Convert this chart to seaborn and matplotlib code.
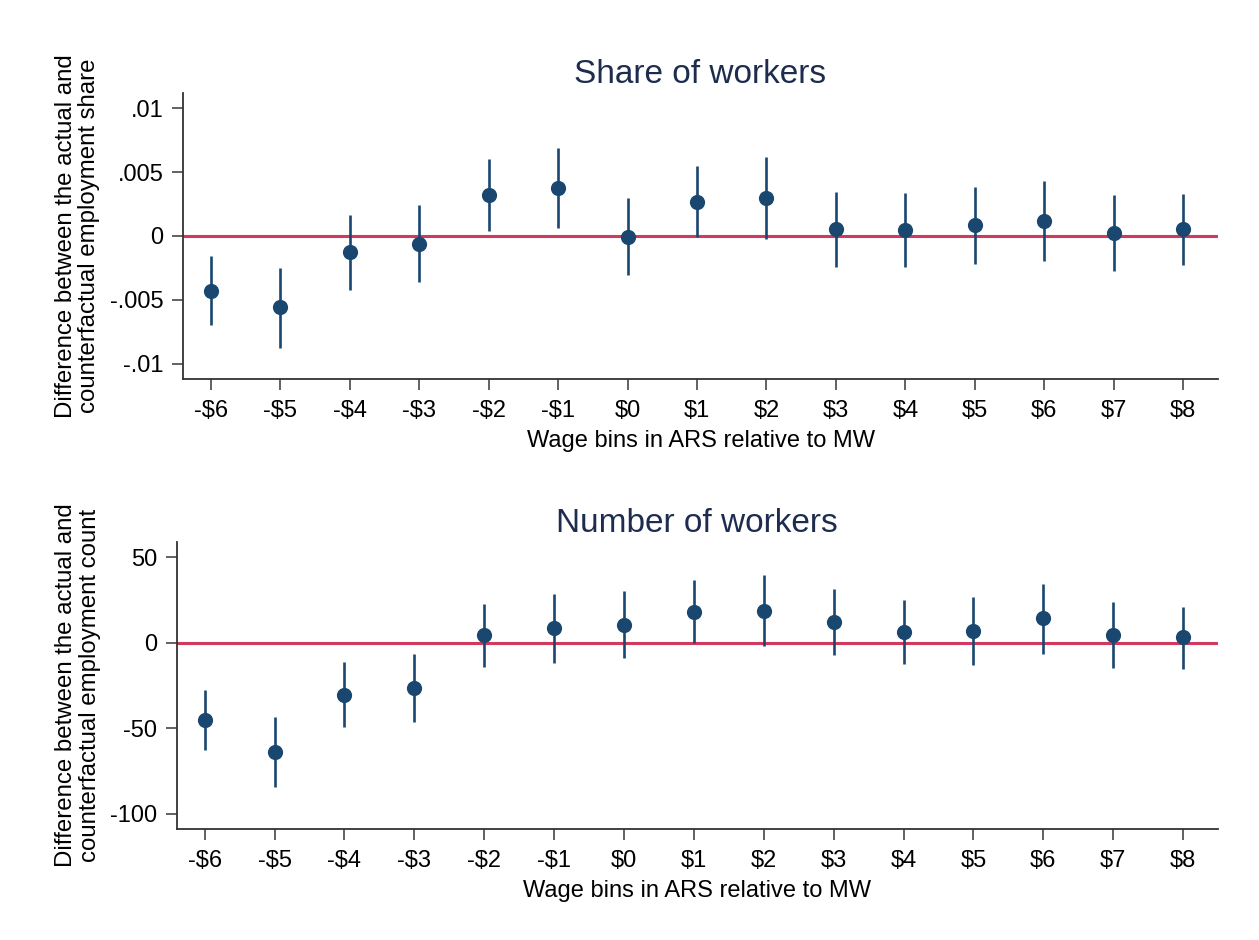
import numpy as np
import pandas as pd
import matplotlib
matplotlib.use("Agg")
import matplotlib.pyplot as plt
import seaborn as sns

# Wage bins (ARS relative to the minimum wage)
bins = [-6, -5, -4, -3, -2, -1, 0, 1, 2, 3, 4, 5, 6, 7, 8]
bin_labels = ["-$6", "-$5", "-$4", "-$3", "-$2", "-$1", "$0", "$1", "$2",
              "$3", "$4", "$5", "$6", "$7", "$8"]

# Share of workers: point estimate and 95% CI
share_est = [-0.0043, -0.0056, -0.00125, -0.0006, 0.0032, 0.00376, -0.00005,
             0.0027, 0.0030, 0.00055, 0.00044, 0.00086, 0.00117, 0.00026, 0.00055]
share_lo = [-0.0070, -0.00875, -0.0042, -0.0036, 0.0004, 0.00065, -0.00305,
            -0.0001, -0.0002, -0.00243, -0.00245, -0.00222, -0.00198, -0.00272, -0.0023]
share_hi = [-0.0016, -0.0025, 0.00167, 0.0024, 0.0060, 0.00687, 0.00298,
            0.00548, 0.00619, 0.00347, 0.00334, 0.00386, 0.00428, 0.00324, 0.00332]

# Number of workers: point estimate and 95% CI
count_est = [-45.3, -63.9, -30.3, -26.6, 4.3, 8.8, 10.5, 18.2, 18.9, 12.1,
             6.1, 6.8, 14.5, 4.7, 3.1]
count_lo = [-62.9, -84.2, -49.2, -46.1, -13.9, -11.7, -9.0, 0.0, -2.0, -7.0,
            -12.7, -12.9, -6.3, -15.0, -15.6]
count_hi = [-27.9, -43.6, -11.3, -6.8, 22.7, 28.5, 30.1, 36.5, 39.5, 31.4,
            24.8, 26.6, 34.6, 24.0, 21.1]

share_ticks = [-0.01, -0.005, 0, 0.005, 0.01]
share_ticklabels = ["-.01", "-.005", "0", ".005", ".01"]
count_ticks = [-100, -50, 0, 50]
count_ticklabels = ["-100", "-50", "0", "50"]

NAVY = "#1a476f"
RED = "#d13a5e"
TITLE_C = "#1e2d4f"

sns.set_theme(style="white")
plt.rcParams["font.family"] = ["Liberation Sans", "DejaVu Sans"]

fig = plt.figure(figsize=(12.59, 9.40), dpi=100)
ax1 = fig.add_axes([0.1454, 0.5968, 0.822, 0.3043])
ax2 = fig.add_axes([0.1404, 0.1181, 0.827, 0.3053])


def panel(ax, est, lo, hi, title, ylabel, yticks, yticklabels, ylim, label_x):
    df = pd.DataFrame({"bin": bins, "est": est, "lo": lo, "hi": hi})
    ax.axhline(0, color=RED, lw=2.2, zorder=1)
    ax.vlines(df["bin"], df["lo"], df["hi"], color=NAVY, lw=1.9, zorder=2)
    sns.scatterplot(data=df, x="bin", y="est", ax=ax, color=NAVY, s=120,
                    edgecolor=NAVY, linewidth=0, zorder=3, legend=False)
    ax.set_xlim(-6.4, 8.5)
    ax.set_ylim(*ylim)
    ax.set_xticks(bins)
    ax.set_xticklabels(bin_labels, fontsize=17)
    ax.set_yticks(yticks)
    ax.set_yticklabels(yticklabels, fontsize=17)
    ax.set_xlabel("Wage bins in ARS relative to MW", fontsize=17, labelpad=6,
                  color="black")
    ax.set_ylabel(ylabel, fontsize=17.3, linespacing=1.08, color="black")
    ax.yaxis.set_label_coords(label_x, 0.5)
    ax.set_title(title, fontsize=24, color=TITLE_C, pad=7)
    for side in ["top", "right"]:
        ax.spines[side].set_visible(False)
    for side in ["left", "bottom"]:
        ax.spines[side].set_color("#333333")
        ax.spines[side].set_linewidth(1.3)
    ax.tick_params(axis="both", direction="out", length=8, width=1.3,
                   color="#555555", labelcolor="black", pad=6,
                   bottom=True, left=True)
    ax.tick_params(axis="x", pad=7)


panel(ax1, share_est, share_lo, share_hi, "Share of workers",
      "Difference between the actual and\ncounterfactual employment share",
      share_ticks, share_ticklabels, (-0.0112, 0.0112), -0.080)
panel(ax2, count_est, count_lo, count_hi, "Number of workers",
      "Difference between the actual and\ncounterfactual employment count",
      count_ticks, count_ticklabels, (-109, 59), -0.073)

fig.savefig("out.png", dpi=100, facecolor="white")
